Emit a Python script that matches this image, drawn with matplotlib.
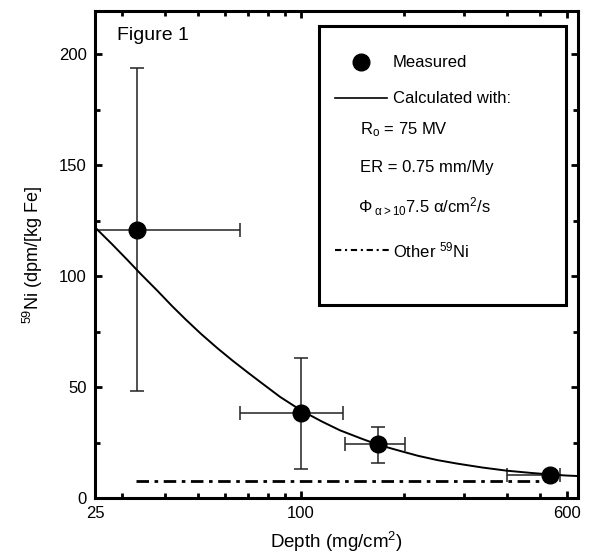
import matplotlib
matplotlib.use("Agg")
import matplotlib.pyplot as plt
from matplotlib.lines import Line2D
from matplotlib.patches import Rectangle
from matplotlib.ticker import FixedLocator, NullFormatter
import numpy as np

plt.rcParams['font.family'] = ['Liberation Sans', 'DejaVu Sans']
plt.rcParams['mathtext.fontset'] = 'custom'
plt.rcParams['mathtext.rm'] = 'Liberation Sans'
plt.rcParams['mathtext.it'] = 'Liberation Sans:italic'
plt.rcParams['mathtext.sf'] = 'Liberation Sans'

# measured 59Ni with error bars
depth = [33.2, 100, 168, 535]
ni59 = [121, 38.5, 24.3, 10.4]
depth_lo = [24, 66.4, 134.5, 400]
depth_hi = [66.4, 132.7, 201, 570]
ni59_lo = [48.2, 13, 15.8, 10.4]
ni59_hi = [193.7, 63, 32, 10.4]

# calculated curve (R0 = 75 MV, ER = 0.75 mm/My)
calc_depth = [25, 28, 31, 34, 38, 42, 46, 51, 57, 63, 70, 78, 87, 100, 115, 130,
              150, 168, 195, 220, 250, 286, 340, 400, 470, 535, 600, 645]
calc_ni59 = [122, 114.5, 107.5, 101, 93.5, 86.5, 80.5, 74, 67.5, 62, 56.5, 51,
             45.5, 39.5, 34.5, 30.5, 26.8, 24, 21.2, 19, 17.1, 15.5, 13.7, 12.3,
             11.3, 10.6, 10.1, 9.9]

# other 59Ni contribution
other_depth = [33, 520]
other_ni59 = [7.7, 7.7]

x_major = [25, 100, 600]
x_minor = [30, 40, 50, 60, 70, 80, 90, 200, 300, 400, 500]

fig = plt.figure(figsize=(5.89, 5.54), dpi=100)
ax = fig.add_axes([0.1613, 0.1011, 0.82, 0.879])

xerr = [np.array(depth) - np.array(depth_lo), np.array(depth_hi) - np.array(depth)]
yerr = [np.array(ni59) - np.array(ni59_lo), np.array(ni59_hi) - np.array(ni59)]
ax.errorbar(depth, ni59, xerr=xerr, yerr=yerr, fmt='none', ecolor='#222222',
            elinewidth=1.1, capsize=5, capthick=1.1, zorder=2)
ax.plot(calc_depth, calc_ni59, color='black', lw=1.4, zorder=3)
ax.plot(other_depth, other_ni59, color='black', lw=2,
        linestyle=(0, (4.5, 2, 1.3, 2)), zorder=2)
ax.plot(depth, ni59, 'o', color='black', ms=12, zorder=4)

ax.set_xscale('log')
ax.set_xlim(25, 645)
ax.set_ylim(0, 219.5)
ax.xaxis.set_major_locator(FixedLocator(x_major))
ax.xaxis.set_minor_locator(FixedLocator(x_minor))
ax.xaxis.set_minor_formatter(NullFormatter())
ax.set_xticklabels([str(v) for v in x_major])
ax.set_yticks([0, 50, 100, 150, 200])
ax.set_yticks([25, 75, 125, 175], minor=True)

for s in ax.spines.values():
    s.set_linewidth(2.2)
ax.tick_params(which='both', direction='in', top=True, right=True, width=2,
               labelsize=12, pad=6)
ax.tick_params(which='major', length=5)
ax.tick_params(which='minor', length=3.5)

ax.set_xlabel('Depth (mg/cm$^2$)', fontsize=13.5, labelpad=6)
ax.set_ylabel('$^{59}$Ni (dpm/[kg Fe]', fontsize=13, labelpad=10)

ax.text(0.046, 0.949, 'Figure 1', transform=ax.transAxes, fontsize=14,
        ha='left', va='center')

# legend drawn by hand to keep the boxed layout
tr = ax.transAxes
ax.add_patch(Rectangle((0.464, 0.396), 0.511, 0.573, transform=tr, fill=False,
                       lw=2.2, edgecolor='black', zorder=5))
ax.add_line(Line2D([0.551], [0.895], transform=tr, marker='o', ms=12,
                   color='black', zorder=6))
ax.text(0.617, 0.895, 'Measured', transform=tr, fontsize=12, va='center')
ax.add_line(Line2D([0.497, 0.605], [0.821, 0.821], transform=tr, color='black',
                   lw=1.2, zorder=6))
ax.text(0.617, 0.821, 'Calculated with:', transform=tr, fontsize=12, va='center')
ax.text(0.549, 0.756, r'R$_\mathrm{o}$ = 75 MV', transform=tr, fontsize=12,
        va='center')
ax.text(0.549, 0.678, 'ER = 0.75 mm/My', transform=tr, fontsize=12, va='center')
ax.text(0.545, 0.598, r'$\Phi_{\ \mathrm{α>10}}$7.5 α/cm$^2$/s', transform=tr,
        fontsize=12, va='center')
ax.add_line(Line2D([0.497, 0.611], [0.509, 0.509], transform=tr, color='black',
                   lw=1.5, linestyle=(0, (3, 1.8, 1, 1.8)), zorder=6))
ax.text(0.617, 0.509, 'Other $^{59}$Ni', transform=tr, fontsize=12, va='center')

fig.savefig('out.png', dpi=100)
